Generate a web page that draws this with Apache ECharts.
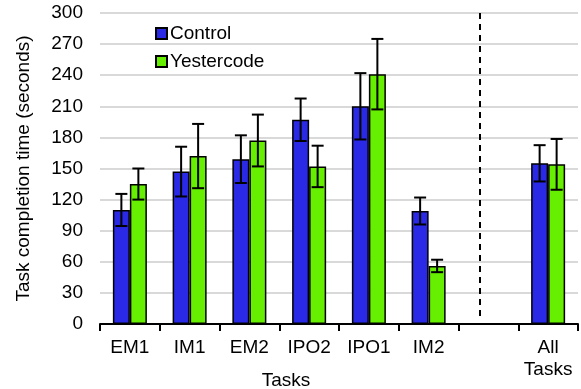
<!DOCTYPE html>
<html>
<head>
<meta charset="utf-8">
<script src="https://cdn.jsdelivr.net/npm/echarts@6/dist/echarts.min.js"></script>
<style>
  html, body { margin: 0; padding: 0; background: #fff; }
  #chart { width: 581px; height: 389px; }
</style>
</head>
<body>
<div id="chart"></div>
<script>
// task categories (7th slot is the empty separator column)
const tasks = ['EM1', 'IM1', 'EM2', 'IPO2', 'IPO1', 'IM2', '', 'All\nTasks'];
const yTicks = [0, 30, 60, 90, 120, 150, 180, 210, 240, 270, 300];

const controlMean = [110, 147, 159, 197, 210, 109, 0, 155];
const controlErr  = [15.5, 24, 23, 20.5, 32, 13, 0, 17.5];
const yesterMean  = [135, 162, 177, 152, 241, 56, 0, 154];
const yesterErr   = [15, 31, 25, 20, 34, 6, 0, 24.5];

const blue = '#2a2ae6';
const green = '#66ef00';
const barW = 17;

function errData(mean, err) {
  return mean.map((m, i) => [i, m - err[i], m + err[i], err[i]]);
}

function errRender(offset) {
  return function (params, api) {
    if (api.value(3) === 0) return null;
    const i = api.value(0);
    const top = api.coord([i, api.value(2)]);
    const bot = api.coord([i, api.value(1)]);
    const x = top[0] + offset;
    const style = { stroke: '#000', lineWidth: 2 };
    return {
      type: 'group',
      children: [
        { type: 'line', shape: { x1: x, y1: top[1], x2: x, y2: bot[1] }, style },
        { type: 'line', shape: { x1: x - 6, y1: top[1], x2: x + 6, y2: top[1] }, style },
        { type: 'line', shape: { x1: x - 6, y1: bot[1], x2: x + 6, y2: bot[1] }, style }
      ]
    };
  };
}

const chart = echarts.init(document.getElementById('chart'));
chart.setOption({
  animation: false,
  textStyle: { fontFamily: 'Liberation Sans, Arial, sans-serif' },
  grid: { left: 100, right: 3, top: 13, bottom: 65 },
  title: {
    text: 'Tasks', left: 281, top: 366, textAlign: 'center',
    textStyle: { fontSize: 19, fontWeight: 'normal', color: '#000' }
  },
  legend: {
    orient: 'vertical', left: 150, top: 19, itemGap: 9,
    icon: 'rect', itemWidth: 11, itemHeight: 11,
    data: [
      { name: 'Control', itemStyle: { color: blue, borderColor: '#000', borderWidth: 2 } },
      { name: 'Yestercode', itemStyle: { color: green, borderColor: '#000', borderWidth: 2 } }
    ],
    textStyle: { fontSize: 19, color: '#000', padding: [0, 0, 0, -2] }
  },
  xAxis: {
    type: 'category', data: tasks,
    axisLine: { lineStyle: { color: '#000', width: 2 } },
    axisTick: { show: true, length: 7, lineStyle: { color: '#000', width: 2 } },
    axisLabel: { color: '#000', fontSize: 19, margin: 13, lineHeight: 22, interval: 0 }
  },
  yAxis: {
    type: 'value', min: yTicks[0], max: yTicks[yTicks.length - 1], interval: 30,
    name: 'Task completion time (seconds)', nameLocation: 'middle', nameGap: 67,
    nameTextStyle: { fontSize: 19, color: '#000' },
    axisLine: { show: false }, axisTick: { show: false },
    axisLabel: { color: '#000', fontSize: 19, margin: 17 },
    splitLine: { lineStyle: { color: '#d9d9d9', width: 2 } }
  },
  series: [
    {
      name: 'Control', type: 'bar', data: controlMean, barWidth: barW, barGap: '0%',
      itemStyle: { color: blue, borderColor: '#000', borderWidth: 1.5 },
      markLine: {
        silent: true, symbol: 'none', label: { show: false },
        lineStyle: { color: '#000', type: [6, 5], width: 2 },
        data: [[{ xAxis: 6, y: 13 }, { xAxis: 6, y: 318 }]]
      }
    },
    {
      name: 'Yestercode', type: 'bar', data: yesterMean, barWidth: barW,
      itemStyle: { color: green, borderColor: '#000', borderWidth: 1.5 }
    },
    {
      type: 'custom', renderItem: errRender(-barW / 2), data: errData(controlMean, controlErr),
      encode: { x: 0, y: [1, 2] }, z: 5, silent: true
    },
    {
      type: 'custom', renderItem: errRender(barW / 2), data: errData(yesterMean, yesterErr),
      encode: { x: 0, y: [1, 2] }, z: 5, silent: true
    }
  ]
});
</script>
</body>
</html>
